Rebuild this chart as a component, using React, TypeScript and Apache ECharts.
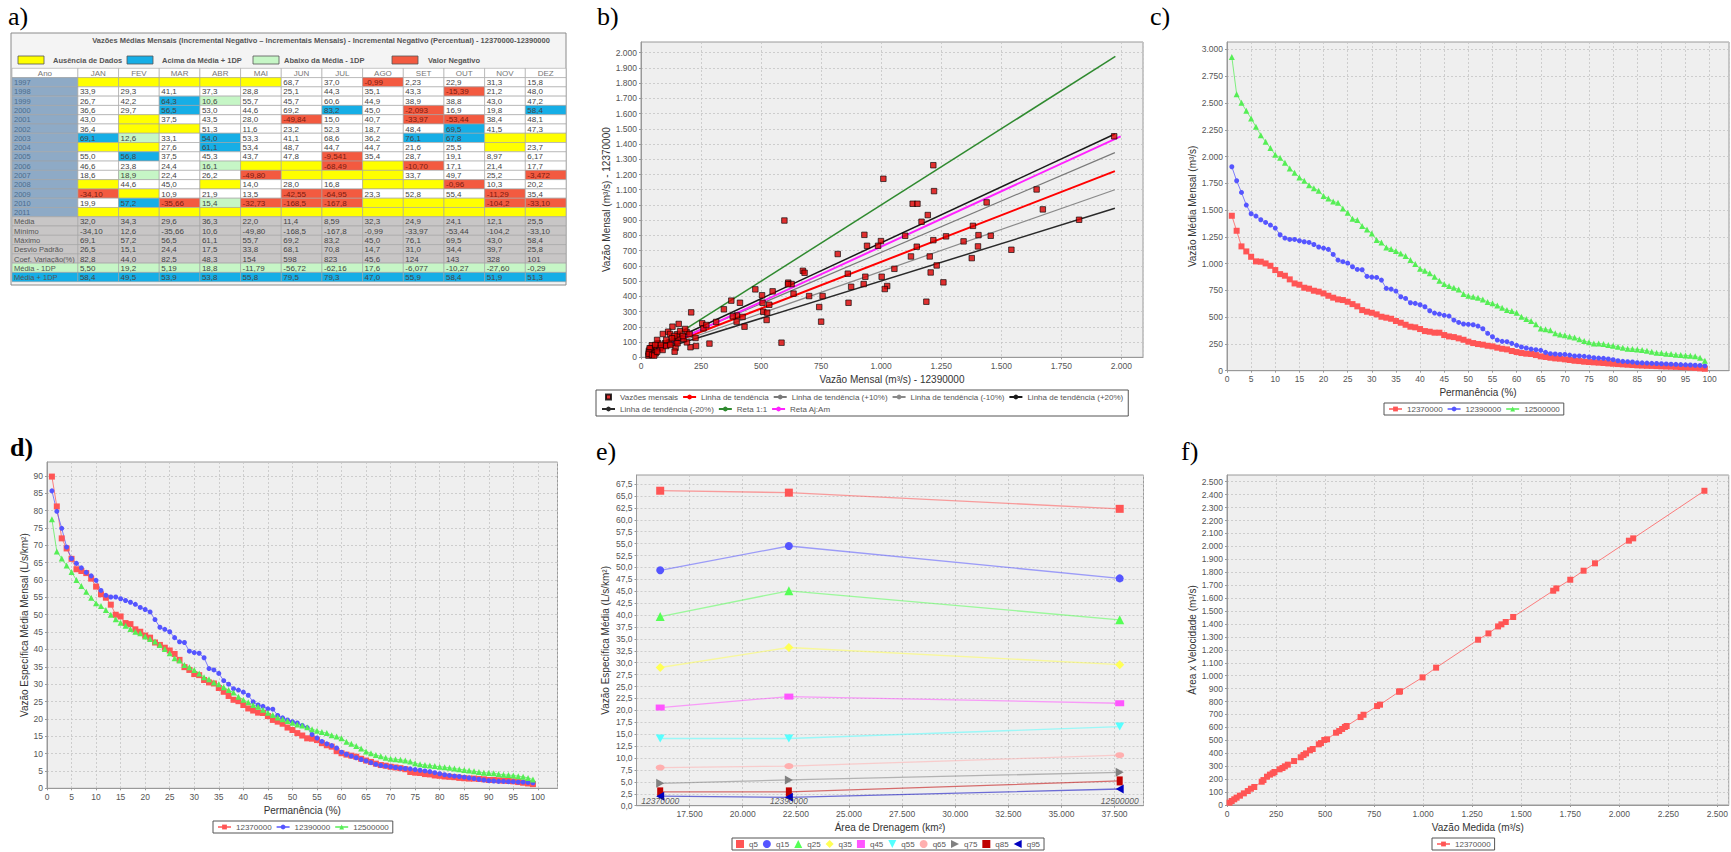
import React, { useEffect, useRef } from "react";
import * as echarts from "echarts";

const FONT = '"Liberation Sans", Arial, sans-serif';
const SERIF = '"Liberation Serif", "Times New Roman", serif';

// ---------------- Panel a: table ----------------
const tableTitle =
  "Vazões Médias Mensais (Incremental Negativo – Incrementais Mensais) - Incremental Negativo (Percentual) - 12370000-12390000";
const tableLegend = ["Ausência de Dados", "Acima da Média + 1DP", "Abaixo da Média - 1DP", "Valor Negativo"];
const monthLabels = ["JAN", "FEV", "MAR", "ABR", "MAI", "JUN", "JUL", "AGO", "SET", "OUT", "NOV", "DEZ"];
const rowLabels = [
  "1997", "1998", "1999", "2000", "2001", "2002", "2003", "2004", "2005", "2006", "2007", "2008", "2009", "2010", "2011",
  "Média", "Mínimo", "Máximo", "Desvio Padrão", "Coef. Variação(%)", "Média - 1DP", "Média + 1DP",
];
const tableValues: string[][] = [
  ["", "", "", "", "", "68,7", "37,0", "-0,99", "2,23", "22,9", "31,3", "15,8"],
  ["33,9", "29,3", "41,1", "37,3", "28,8", "25,1", "44,3", "35,1", "43,3", "-15,39", "21,2", "48,0"],
  ["26,7", "42,2", "64,3", "10,6", "55,7", "45,7", "60,6", "44,9", "38,9", "38,8", "43,0", "47,2"],
  ["36,6", "29,7", "56,5", "53,0", "44,6", "69,2", "83,2", "45,0", "-2,093", "16,9", "19,8", "58,4"],
  ["43,0", "", "37,5", "43,5", "28,0", "-49,84", "15,0", "40,7", "-33,97", "-53,44", "38,4", "48,1"],
  ["36,4", "", "", "51,3", "11,6", "23,2", "52,3", "18,7", "48,4", "69,5", "41,5", "47,3"],
  ["69,1", "12,6", "33,1", "54,0", "53,3", "41,1", "68,6", "36,2", "76,1", "67,8", "", ""],
  ["", "", "27,6", "61,1", "53,4", "48,7", "44,7", "44,7", "21,6", "25,5", "", "23,7"],
  ["55,0", "56,8", "37,5", "45,3", "43,7", "47,8", "-9,541", "35,4", "28,7", "19,1", "8,97", "6,17"],
  ["46,6", "23,8", "24,4", "16,1", "", "", "-68,49", "", "-10,70", "17,1", "21,4", "17,7"],
  ["18,6", "18,9", "22,4", "26,2", "-49,80", "", "", "", "33,7", "49,7", "25,2", "-3,472"],
  ["", "44,6", "45,0", "", "14,0", "28,0", "16,8", "", "", "-0,96", "10,3", "20,2"],
  ["-34,10", "", "10,9", "21,9", "13,5", "-42,55", "-64,95", "23,3", "52,8", "55,4", "-11,29", "35,4"],
  ["19,9", "57,2", "-35,66", "15,4", "-32,73", "-168,5", "-167,8", "", "", "", "-104,2", "-33,10"],
  ["", "", "", "", "", "", "", "", "", "", "", ""],
  ["32,0", "34,3", "29,6", "36,3", "22,0", "11,4", "8,59", "32,3", "24,9", "24,1", "12,1", "25,5"],
  ["-34,10", "12,6", "-35,66", "10,6", "-49,80", "-168,5", "-167,8", "-0,99", "-33,97", "-53,44", "-104,2", "-33,10"],
  ["69,1", "57,2", "56,5", "61,1", "55,7", "69,2", "83,2", "45,0", "76,1", "69,5", "43,0", "58,4"],
  ["26,5", "15,1", "24,4", "17,5", "33,8", "68,1", "70,8", "14,7", "31,0", "34,4", "39,7", "25,8"],
  ["82,8", "44,0", "82,5", "48,3", "154", "598", "823", "45,6", "124", "143", "328", "101"],
  ["5,50", "19,2", "5,19", "18,8", "-11,79", "-56,72", "-62,16", "17,6", "-6,077", "-10,27", "-27,60", "-0,29"],
  ["58,4", "49,5", "53,9", "53,8", "55,8", "79,5", "79,3", "47,0", "55,9", "58,4", "51,9", "51,3"],
];
// Y = sem dados, B = acima, G = abaixo, R = negativo, W = normal, S = estatística, L = média-1DP, C = média+1DP
const tableFlags = [
  "YYYYYWWRWWWW", "WWWWWWWWWRWW", "WWBGWWWWWWWW", "WWBWWWBWRWWB", "WYWWWRWWRRWW",
  "WYYWWWWWWBWW", "BGWBWWWWBBYY", "YYWBWWWWWWYW", "WBWWWWRWWWWW", "WWWGYYRYRWWW",
  "WGWWRYYYWWWR", "YWWYWWWYYRWW", "RYWWWRRWWWRW", "WBRGRRRYYYRR", "YYYYYYYYYYYY",
  "SSSSSSSSSSSS", "SSSSSSSSSSSS", "SSSSSSSSSSSS", "SSSSSSSSSSSS", "SSSSSSSSSSSS",
  "LLLLLLLLLLLL", "CCCCCCCCCCCC",
];

// ---------------- Panel b ----------------
const bScatter: number[][] = [
  [597, 898], [1009, 1172], [1217, 1261], [1220, 1091], [1131, 1008], [1151, 1008], [1194, 934], [1168, 890],
  [930, 804], [1647, 1102], [1673, 971], [1439, 1017], [1382, 863], [1405, 802], [1456, 798], [1824, 903],
  [1542, 706], [1377, 651], [1403, 728], [1343, 761], [1270, 794], [1217, 769], [1100, 798], [999, 763],
  [987, 732], [941, 732], [1148, 726], [1124, 662], [1202, 662], [1231, 603], [1206, 557], [1259, 492],
  [1188, 365], [1055, 581], [1002, 529], [934, 529], [927, 481], [1025, 468], [1015, 448], [861, 549],
  [819, 678], [674, 568], [681, 555], [613, 490], [627, 481], [635, 418], [548, 433], [476, 446],
  [504, 407], [506, 358], [534, 345], [509, 299], [525, 293], [523, 245], [700, 402], [756, 402],
  [742, 330], [750, 234], [864, 358], [875, 463], [585, 96], [376, 372], [412, 358], [399, 275],
  [423, 265], [431, 201], [398, 234], [382, 269], [345, 315], [313, 232], [285, 90], [209, 295],
  [131, 201], [113, 168], [91, 153], [157, 219], [255, 223], [260, 190], [272, 212], [147, 107],
  [206, 66], [229, 74], [227, 127], [191, 98], [177, 120], [154, 131], [144, 63], [140, 37],
  [150, 151], [71, 92], [79, 59], [53, 52], [45, 79], [33, 44], [121, 153], [118, 98],
  [100, 92], [90, 48], [105, 114], [67, 114], [61, 26], [40, 22], [31, 11], [49, 33],
  [40, 59], [163, 171], [190, 166], [184, 186], [174, 140], [202, 153], [139, 140], [129, 125],
  [83, 81], [59, 81], [36, 59], [33, 33], [32, 22], [46, 15], [55, 11], [67, 37],
  [105, 74], [122, 81], [152, 92], [1970, 1451], [612, 480],
];
const trendX = [30, 1973];
const trendY = [33, 1222];
const trendPlus10 = [36, 1344];
const trendMinus10 = [30, 1100];
const trendPlus20 = [40, 1466];
const trendMinus20 = [26, 978];
const reta11X = [30, 1975];
const reta11Y = [30, 1975];
const retaAjAmX = [30, 1997];
const retaAjAmY = [22, 1451];

// ---------------- Panels c, d ----------------
const permanencia = [
  1, 2, 3, 4, 5, 6, 7, 8, 9, 10, 11, 12, 13, 14, 15, 16, 17, 18, 19, 20, 21, 22, 23, 24, 25, 26, 27, 28, 29, 30,
  31, 32, 33, 34, 35, 36, 37, 38, 39, 40, 41, 42, 43, 44, 45, 46, 47, 48, 49, 50, 51, 52, 53, 54, 55, 56, 57, 58, 59, 60,
  61, 62, 63, 64, 65, 66, 67, 68, 69, 70, 71, 72, 73, 74, 75, 76, 77, 78, 79, 80, 81, 82, 83, 84, 85, 86, 87, 88, 89, 90,
  91, 92, 93, 94, 95, 96, 97, 98, 99,
];
const stations = ["12370000", "12390000", "12500000"];
const cQ12370000 = [
  1447, 1307, 1161, 1114, 1064, 1021, 1018, 1002, 980, 940, 902, 887, 853, 815, 803, 775, 766, 747, 738, 722,
  700, 682, 666, 660, 644, 622, 601, 566, 551, 541, 526, 504, 495, 485, 464, 448, 429, 411, 405, 389,
  370, 364, 355, 355, 333, 320, 314, 302, 289, 271, 258, 249, 243, 233, 227, 215, 205, 199, 184, 174,
  165, 159, 156, 146, 134, 128, 121, 115, 112, 106, 100, 93, 90, 84, 81, 78, 75, 72, 68, 65,
  62, 59, 56, 53, 50, 48, 46, 45, 43, 41, 39, 38, 36, 34, 32, 29, 26, 22, 18,
];
const cQ12390000 = [
  1905, 1774, 1665, 1547, 1466, 1444, 1410, 1385, 1360, 1332, 1270, 1239, 1226, 1226, 1214, 1204, 1198, 1179, 1155, 1145,
  1133, 1086, 1033, 1018, 1005, 971, 946, 943, 881, 874, 871, 846, 769, 762, 744, 691, 675, 635, 629, 616,
  597, 560, 538, 529, 517, 510, 473, 451, 436, 433, 429, 417, 392, 349, 317, 286, 274, 271, 255, 237,
  221, 212, 202, 196, 190, 171, 159, 156, 152, 152, 146, 137, 137, 134, 128, 121, 118, 115, 109, 103,
  93, 87, 84, 81, 75, 73, 71, 69, 67, 65, 63, 61, 59, 57, 55, 53, 51, 49, 45,
];
const cQ12500000 = [
  2931, 2583, 2502, 2427, 2356, 2278, 2200, 2138, 2079, 2017, 1989, 1942, 1889, 1849, 1805, 1774, 1733, 1705, 1680, 1631,
  1609, 1581, 1568, 1516, 1475, 1419, 1407, 1351, 1319, 1282, 1220, 1198, 1151, 1136, 1117, 1095, 1071, 1033, 996, 952,
  934, 909, 878, 840, 809, 790, 775, 759, 716, 700, 691, 682, 666, 641, 629, 610, 588, 566, 557, 541,
  504, 482, 464, 433, 395, 386, 377, 349, 339, 330, 320, 311, 293, 277, 265, 255, 255, 249, 240, 233,
  224, 215, 205, 202, 199, 193, 187, 177, 168, 165, 159, 156, 149, 146, 143, 140, 134, 121, 93,
];
const dQ12370000 = [
  89.8, 81.2, 72.0, 69.1, 66.1, 63.1, 62.6, 62.0, 60.4, 58.1, 55.9, 54.9, 52.9, 50.0, 49.5, 47.6, 47.3, 45.8, 45.1, 44.0,
  43.4, 42.0, 41.3, 40.5, 39.7, 38.7, 37.0, 34.9, 34.1, 32.9, 32.6, 31.2, 30.5, 30.2, 28.9, 27.8, 26.6, 25.5, 25.1, 24.0,
  23.0, 22.4, 21.8, 21.7, 20.8, 19.7, 19.2, 18.6, 17.5, 16.8, 15.9, 15.2, 14.4, 14.3, 13.9, 13.0, 12.4, 12.0, 10.7, 10.1,
  9.7, 9.4, 9.1, 8.5, 8.0, 7.6, 7.1, 6.7, 6.5, 6.2, 6.0, 5.8, 5.5, 4.7, 4.5, 4.4, 4.1, 4.0, 3.7, 3.6,
  3.4, 3.3, 3.2, 3.0, 2.9, 2.8, 2.8, 2.7, 2.6, 2.4, 2.4, 2.3, 2.2, 2.1, 2.0, 1.8, 1.6, 1.4, 1.2,
];
const dQ12390000 = [
  85.7, 79.8, 74.9, 69.5, 66.2, 64.8, 63.5, 62.2, 61.2, 59.9, 57.0, 55.6, 55.1, 55.1, 54.6, 54.1, 53.6, 53.0, 52.1, 51.5,
  50.8, 48.6, 46.4, 45.8, 45.1, 43.4, 42.2, 42.0, 39.5, 39.1, 38.9, 37.6, 34.5, 34.1, 33.1, 31.0, 30.0, 28.7, 28.3, 27.7,
  26.8, 24.9, 24.0, 23.6, 22.9, 22.8, 21.0, 20.3, 19.7, 19.2, 18.8, 18.1, 17.5, 15.5, 14.5, 13.5, 12.8, 12.3, 11.6, 10.4,
  9.8, 9.3, 8.8, 8.3, 7.9, 7.4, 6.9, 6.6, 6.4, 6.2, 6.0, 5.8, 5.7, 5.6, 5.4, 5.2, 5.0, 4.8, 4.5, 4.2,
  3.9, 3.7, 3.5, 3.4, 3.2, 3.0, 2.8, 2.6, 2.4, 2.2, 2.1, 2.0, 2.0, 1.9, 1.9, 1.8, 1.8, 1.7, 1.6,
];
const dQ12500000 = [
  77.5, 68.2, 66.2, 64.2, 62.3, 60.0, 58.3, 56.6, 54.9, 53.3, 52.5, 51.4, 50.0, 48.7, 47.7, 46.8, 45.9, 45.1, 44.7, 43.7,
  43.0, 42.3, 41.3, 40.1, 38.9, 37.5, 36.8, 35.5, 34.9, 34.1, 33.1, 32.0, 31.4, 30.5, 30.0, 29.1, 28.3, 27.6, 26.4, 25.5,
  24.8, 24.0, 23.5, 22.6, 21.8, 21.1, 20.4, 19.9, 19.4, 18.9, 18.4, 18.1, 17.6, 17.0, 16.6, 16.2, 15.9, 15.3, 14.9, 14.4,
  13.4, 12.8, 12.2, 11.5, 10.6, 10.1, 9.6, 9.2, 8.8, 8.5, 8.4, 8.2, 8.0, 7.7, 7.2, 6.9, 6.7, 6.6, 6.4, 6.2,
  6.1, 5.9, 5.7, 5.5, 5.3, 5.1, 4.9, 4.7, 4.5, 4.4, 4.3, 4.1, 3.9, 3.8, 3.7, 3.5, 3.3, 3.0, 2.5,
];

// ---------------- Panel e ----------------
const stationAreas = [16115, 22170, 37740];
const qNames = ["q5", "q15", "q25", "q35", "q45", "q55", "q65", "q75", "q85", "q95"];
const qValues: number[][] = [
  [66.1, 65.7, 62.3],
  [49.4, 54.5, 47.7],
  [39.7, 45.1, 39.0],
  [29.0, 33.2, 29.6],
  [20.6, 22.9, 21.5],
  [14.1, 14.1, 16.6],
  [8.0, 8.3, 10.6],
  [4.7, 5.4, 7.0],
  [2.9, 2.9, 5.2],
  [2.0, 1.75, 3.5],
];

// ---------------- Panel f ----------------
const fMedida = [
  13, 24, 37, 49, 66, 86, 106, 122, 139, 177, 186, 204, 219, 233, 242, 268, 283, 295, 310, 342, 376, 390, 403, 423,
  437, 468, 479, 496, 510, 556, 572, 587, 601, 610, 681, 696, 765, 780, 877, 882, 997, 1066, 1280, 1333, 1382, 1399,
  1421, 1459, 1663, 1679, 1750, 1818, 1876, 2049, 2071, 2434,
];
const fAreaVel = [
  18, 31, 44, 57, 72, 90, 108, 126, 139, 180, 193, 219, 235, 245, 255, 276, 286, 299, 312, 340, 369, 387, 399, 423,
  433, 469, 479, 503, 508, 559, 572, 588, 603, 611, 680, 698, 765, 776, 876, 879, 987, 1062, 1278, 1327, 1381, 1397,
  1415, 1454, 1657, 1675, 1742, 1812, 1869, 2044, 2062, 2430,
];

// ---------------- helpers ----------------
function thousands(v: number): string {
  const s = Math.round(v).toString();
  return s.replace(/\B(?=(\d{3})+(?!\d))/g, ".");
}
function decimalComma(v: number): string {
  return v.toFixed(1).replace(".", ",");
}

const ANO_W = 1.62; // largura da coluna "Ano" em unidades de coluna de mês

const cellColors: Record<string, string> = {
  Y: "#ffff00",
  B: "#16aee6",
  G: "#c6f6c6",
  R: "#f35a40",
  W: "#ffffff",
  S: "#c8c6c6",
  L: "#c6f6c6",
  C: "#16aee6",
};

type Cell = { c: number; r: number; text: string; fill: string; color: string; align: string };
const tableCells: Cell[] = [];
tableCells.push({ c: -1, r: -1, text: "Ano", fill: "#ffffff", color: "#777", align: "center" });
monthLabels.forEach((m, i) => tableCells.push({ c: i, r: -1, text: m, fill: "#ffffff", color: "#777", align: "center" }));
rowLabels.forEach((lab, r) => {
  const rowFlag = tableFlags[r][0];
  const labelFill = r < 15 ? "#8eaac6" : cellColors[rowFlag];
  const labelColor = r < 15 ? "#4d6d8d" : "#555";
  tableCells.push({ c: -1, r, text: lab, fill: labelFill, color: labelColor, align: "left" });
  tableValues[r].forEach((v, c) => {
    const f = tableFlags[r][c];
    tableCells.push({ c, r, text: v, fill: cellColors[f], color: f === "R" ? "#7a1a10" : "#444", align: "left" });
  });
});

const legendText = { fontSize: 8, color: "#555", fontFamily: FONT };

function grid(left: number, top: number, width: number, height: number) {
  return { left, top, width, height, show: true, backgroundColor: "#efefef", borderColor: "#9a9a9a", borderWidth: 1 };
}

function vAxis(
  gridIndex: number,
  min: number,
  max: number,
  interval: number,
  name: string,
  nameGap: number,
  fmt: (v: number) => string,
  showMinLabel = true
) {
  return {
    type: "value",
    gridIndex,
    min,
    max,
    interval,
    name,
    nameLocation: "middle",
    nameGap,
    nameTextStyle: { fontSize: 10, color: "#333", fontFamily: FONT },
    axisLine: { show: true, onZero: false, lineStyle: { color: "#999" } },
    axisTick: { show: true, length: 2, lineStyle: { color: "#999" } },
    axisLabel: {
      fontSize: 8.5,
      color: "#555",
      fontFamily: FONT,
      margin: 4,
      formatter: fmt,
      showMaxLabel: false,
      showMinLabel,
    },
    splitLine: { show: true, lineStyle: { color: "#c4c4c4", type: [2, 2], width: 0.8 } },
  };
}

// small square legend icon; the move-to points only widen the box so the square is not stretched
const SMALL_SQUARE = "path://M0,0M13,6M4,0.5L9,0.5L9,5.5L4,5.5Z";

function buildOption() {
  const graphic: any[] = [
    { type: "text", left: 8, top: 3, style: { text: "a)", font: `26px ${SERIF}`, fill: "#000" } },
    { type: "text", left: 597, top: 3, style: { text: "b)", font: `26px ${SERIF}`, fill: "#000" } },
    { type: "text", left: 1150, top: 3, style: { text: "c)", font: `26px ${SERIF}`, fill: "#000" } },
    { type: "text", left: 10, top: 434, style: { text: "d)", font: `bold 26px ${SERIF}`, fill: "#000" } },
    { type: "text", left: 596, top: 438, style: { text: "e)", font: `26px ${SERIF}`, fill: "#000" } },
    { type: "text", left: 1181, top: 438, style: { text: "f)", font: `26px ${SERIF}`, fill: "#000" } },
    {
      type: "rect",
      shape: { x: 11, y: 33, width: 555, height: 252 },
      style: { fill: "#f4f4f4", stroke: "#8a8a8a", lineWidth: 1 },
      z: -1,
    },
    {
      type: "text",
      x: 321,
      y: 40,
      style: { text: tableTitle, font: `bold 7.5px ${FONT}`, fill: "#555", align: "center", verticalAlign: "middle" },
    },
  ];
  const legendBoxes = [
    { x: 18, color: "#ffff00", tx: 53 },
    { x: 127, color: "#16aee6", tx: 162 },
    { x: 253, color: "#c6f6c6", tx: 284 },
    { x: 392, color: "#f35a40", tx: 428 },
  ];
  legendBoxes.forEach((b, i) => {
    graphic.push({
      type: "rect",
      shape: { x: b.x, y: 56, width: 26, height: 8 },
      style: { fill: b.color, stroke: "#555", lineWidth: 0.8 },
    });
    graphic.push({
      type: "text",
      x: b.tx,
      y: 60,
      style: { text: tableLegend[i], font: `bold 7.5px ${FONT}`, fill: "#555", verticalAlign: "middle" },
    });
  });

  const lineMarkers = (color: string, symbol: string, size: number) => ({
    type: "line",
    symbol,
    symbolSize: size,
    showAllSymbol: true,
    itemStyle: { color },
    lineStyle: { color, width: 1, opacity: 0.75 },
  });

  const eSymbols: any[] = [
    { symbol: "rect", size: 8, color: "#ff5555" },
    { symbol: "circle", size: 8, color: "#5555ff" },
    { symbol: "triangle", size: 9, color: "#55ff55" },
    { symbol: "diamond", size: 9, color: "#ffff55" },
    { symbol: "rect", size: [9, 6], color: "#ff55ff" },
    { symbol: "path://M0,0L10,0L5,10Z", size: [9, 8], color: "#55ffff" },
    { symbol: "circle", size: [9, 6], color: "#ffafaf" },
    { symbol: "path://M0,0L10,5L0,10Z", size: [8, 9], color: "#808080" },
    { symbol: "rect", size: [6, 9], color: "#c00000" },
    { symbol: "path://M10,0L0,5L10,10Z", size: [8, 9], color: "#0000c0" },
  ];

  const series: any[] = [];
  series.push({
    type: "custom",
    xAxisIndex: 0,
    yAxisIndex: 0,
    silent: true,
    data: tableCells.map((cell) => [cell.c, cell.r]),
    renderItem: (params: any, api: any) => {
      const cell = tableCells[params.dataIndex];
      const x0 = cell.c < 0 ? -ANO_W : cell.c;
      const x1 = cell.c < 0 ? 0 : cell.c + 1;
      const p0 = api.coord([x0, cell.r]);
      const p1 = api.coord([x1, cell.r + 1]);
      const w = p1[0] - p0[0];
      const h = p1[1] - p0[1];
      return {
        type: "group",
        children: [
          {
            type: "rect",
            shape: { x: p0[0], y: p0[1], width: w, height: h },
            style: { fill: cell.fill, stroke: "#a3a3a3", lineWidth: 0.6 },
          },
          {
            type: "text",
            style: {
              text: cell.text,
              x: cell.align === "center" ? p0[0] + w / 2 : p0[0] + 2,
              y: p0[1] + h / 2 + 0.5,
              align: cell.align,
              verticalAlign: "middle",
              font: `${cell.c < 0 && cell.r >= 0 ? 7.5 : 8}px ${FONT}`,
              fill: cell.color,
            },
          },
        ],
      };
    },
  });

  series.push({
    name: "Vazões mensais",
    type: "scatter",
    xAxisIndex: 1,
    yAxisIndex: 1,
    symbol: "rect",
    symbolSize: 5.5,
    itemStyle: { color: "#dd0000", borderColor: "#000", borderWidth: 0.8 },
    data: bScatter,
    z: 5,
  });
  const bLine = (name: string, xs: number[], ys: number[], color: string, width: number) => ({
    name,
    type: "line",
    xAxisIndex: 1,
    yAxisIndex: 1,
    symbol: "none",
    itemStyle: { color },
    lineStyle: { color, width },
    data: xs.map((x, i) => [x, ys[i]]),
    z: 3,
  });
  series.push(bLine("Linha de tendência", trendX, trendY, "#ff0000", 2));
  series.push(bLine("Linha de tendência (+10%)", trendX, trendPlus10, "#7a7a7a", 1.2));
  series.push(bLine("Linha de tendência (-10%)", trendX, trendMinus10, "#8a8a8a", 1.2));
  series.push(bLine("Linha de tendência (+20%)", trendX, trendPlus20, "#1a1a1a", 1.5));
  series.push(bLine("Linha de tendência (-20%)", trendX, trendMinus20, "#2a2a2a", 1.5));
  series.push(bLine("Reta 1:1", reta11X, reta11Y, "#2f8a2f", 1.5));
  series.push(bLine("Reta Aj:Am", retaAjAmX, retaAjAmY, "#ff22ff", 2));

  const cdSeries = [
    { name: stations[0], c: cQ12370000, d: dQ12370000, color: "#ff5555", symbol: "rect", size: 6 },
    { name: stations[1], c: cQ12390000, d: dQ12390000, color: "#5555ff", symbol: "circle", size: 5 },
    { name: stations[2], c: cQ12500000, d: dQ12500000, color: "#55ee55", symbol: "triangle", size: 6 },
  ];
  cdSeries.forEach((s) => {
    series.push({
      name: s.name,
      ...lineMarkers(s.color, s.symbol, s.size),
      xAxisIndex: 2,
      yAxisIndex: 2,
      data: permanencia.map((p, i) => [p, s.c[i]]),
    });
  });
  cdSeries.forEach((s) => {
    series.push({
      name: s.name,
      ...lineMarkers(s.color, s.symbol, s.size),
      xAxisIndex: 3,
      yAxisIndex: 3,
      data: permanencia.map((p, i) => [p, s.d[i]]),
    });
  });

  qNames.forEach((q, k) => {
    const sym = eSymbols[k];
    series.push({
      name: q,
      type: "line",
      xAxisIndex: 4,
      yAxisIndex: 4,
      symbol: sym.symbol,
      symbolSize: sym.size,
      itemStyle: { color: sym.color },
      lineStyle: { color: sym.color, width: 1.3, opacity: 0.55 },
      data: stationAreas.map((a, i) => [a, qValues[k][i]]),
    });
  });
  series.push({
    name: "estações",
    type: "scatter",
    xAxisIndex: 4,
    yAxisIndex: 4,
    symbolSize: 0,
    silent: true,
    data: stationAreas.map((a) => [a, 0]),
    label: {
      show: true,
      position: "top",
      distance: 0,
      fontSize: 8.5,
      fontStyle: "italic",
      color: "#333",
      fontFamily: FONT,
      formatter: (p: any) => stations[p.dataIndex],
    },
    z: 10,
  });

  series.push({
    name: stations[0],
    ...lineMarkers("#ff5555", "rect", 6),
    xAxisIndex: 5,
    yAxisIndex: 5,
    data: fMedida.map((x, i) => [x, fAreaVel[i]]),
  });

  const legendBase = {
    orient: "horizontal",
    borderColor: "#555",
    borderWidth: 1,
    padding: [2, 4],
    itemGap: 4,
    itemWidth: 13,
    itemHeight: 6,
    textStyle: legendText,
    selectedMode: false,
    backgroundColor: "#fff",
  };

  return {
    animation: false,
    backgroundColor: "#ffffff",
    textStyle: { fontFamily: FONT },
    graphic,
    grid: [
      { left: 12, top: 68.3, width: 554, height: 213.4, show: false },
      grid(641, 42, 502, 315.3),
      grid(1227, 42, 502, 328.7),
      grid(47, 462, 510.5, 326.3),
      grid(636.5, 475, 507, 330.7),
      grid(1227, 475, 503, 330),
    ],
    xAxis: [
      { type: "value", gridIndex: 0, min: -ANO_W, max: 12, show: false },
      vAxis(1, 0, 2090, 250, "Vazão Mensal (m³/s) - 12390000", 17, thousands),
      vAxis(2, 0, 104, 5, "Permanência (%)", 17, (v) => String(v)),
      vAxis(3, 0, 104, 5, "Permanência (%)", 17, (v) => String(v)),
      vAxis(4, 15000, 38860, 2500, "Área de Drenagem (km²)", 17, thousands, false),
      vAxis(5, 0, 2558, 250, "Vazão Medida (m³/s)", 17, thousands),
    ],
    yAxis: [
      { type: "value", gridIndex: 0, min: -1, max: 22, inverse: true, show: false },
      vAxis(1, 0, 2070, 100, "Vazão Mensal (m³/s) - 12370000", 30, thousands),
      vAxis(2, 0, 3070, 250, "Vazão Média Mensal (m³/s)", 30, thousands),
      vAxis(3, 0, 94, 5, "Vazão Específica Média Mensal (L/s/km²)", 18, (v) => String(v)),
      vAxis(4, 0, 69.4, 2.5, "Vazão Específica Média (L/s/km²)", 26, decimalComma),
      vAxis(5, 0, 2552, 100, "Área x Velocidade (m³/s)", 30, thousands),
    ],
    legend: [
      {
        ...legendBase,
        left: 596,
        top: 390,
        width: 548,
        padding: [3, 5],
        data: [
          { name: "Vazões mensais", icon: SMALL_SQUARE },
          "Linha de tendência",
          "Linha de tendência (+10%)",
          "Linha de tendência (-10%)",
          "Linha de tendência (+20%)",
          "Linha de tendência (-20%)",
          "Reta 1:1",
          "Reta Aj:Am",
        ],
      },
      { ...legendBase, left: 1384, top: 403, data: stations },
      { ...legendBase, left: 213, top: 821, data: stations },
      {
        ...legendBase,
        left: 732,
        top: 838,
        itemWidth: 8,
        itemHeight: 8,
        itemGap: 5,
        data: qNames.map((q, k) => ({ name: q, icon: eSymbols[k].symbol })),
      },
      { ...legendBase, left: 1432, top: 838, data: [stations[0]] },
    ],
    series,
  };
}

export default function App() {
  const ref = useRef<HTMLDivElement>(null);
  useEffect(() => {
    const chart = echarts.init(ref.current!, null, { renderer: "svg" });
    chart.setOption(buildOption() as any);
    return () => chart.dispose();
  }, []);
  return (
    <div
      ref={ref}
      style={{ position: "fixed", left: 0, top: 0, width: 1731, height: 852, background: "#fff" }}
    />
  );
}
